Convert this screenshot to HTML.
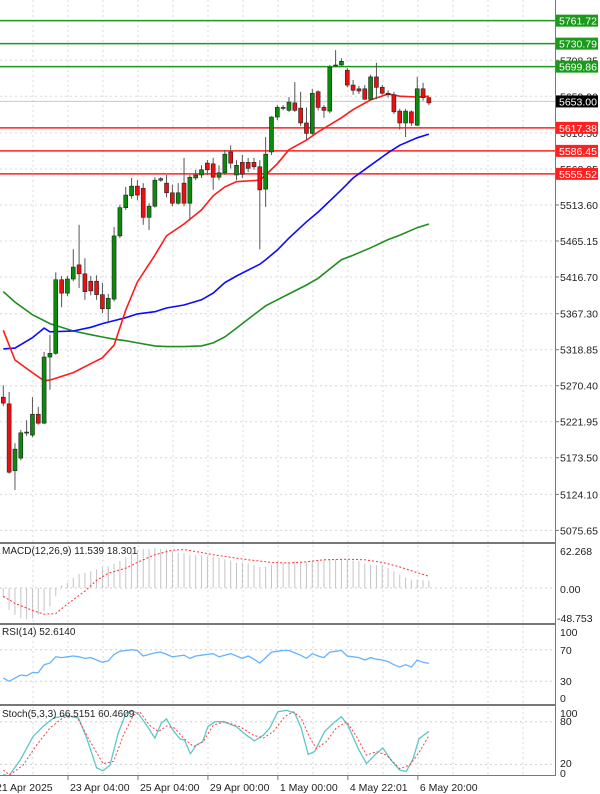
<!DOCTYPE html>
<html><head><meta charset="utf-8">
<style>
html,body{margin:0;padding:0;background:#fff;}
svg{display:block;font-family:"Liberation Sans",sans-serif;}
</style></head>
<body>
<svg id="chart" width="600" height="794" viewBox="0 0 600 794" xmlns="http://www.w3.org/2000/svg">
<defs>
<clipPath id="cMain"><rect x="0" y="0" width="555" height="542"/></clipPath>
<clipPath id="cMacd"><rect x="0" y="545" width="555" height="77"/></clipPath>
<clipPath id="cRsi"><rect x="0" y="626" width="555" height="77"/></clipPath>
<clipPath id="cSto"><rect x="0" y="707" width="555" height="68"/></clipPath>
</defs>
<rect x="0" y="0" width="600" height="794" fill="#fff"/>
<g id="grid"></g>
<g id="main" clip-path="url(#cMain)"></g>
<g id="macd" clip-path="url(#cMacd)"></g>
<g id="rsi" clip-path="url(#cRsi)"></g>
<g id="sto" clip-path="url(#cSto)"></g>
<g id="axes"></g>
<text x="2" y="554" font-size="10" fill="#222">MACD(12,26,9) 11.539 18.301</text>
<text x="2" y="635" font-size="10" fill="#222">RSI(14) 52.6140</text>
<text x="2" y="717" font-size="10" fill="#222">Stoch(5,3,3) 66.5151 60.4609</text>
</svg>
<script>
// ---- data ----
const opens  = [5255,5246,5156,5173,5207,5204,5232,5220,5309,5314,5413,5395,5414,5433,5421,5411,5411,5393,5374,5387,5472,5510,5526,5539,5536,5497,5512,5547,5543,5530,5516,5543,5516,5550,5554,5570,5569,5551,5557,5585,5554,5571,5571,5571,5565,5535,5585,5632,5645,5641,5651,5644,5624,5610,5666,5645,5640,5701,5702,5695,5675,5670,5670,5656,5686,5672,5664,5662,5640,5624,5639,5621,5670,5658];
const highs  = [5271,5262,5193,5211,5224,5255,5242,5316,5339,5423,5418,5418,5454,5487,5442,5418,5419,5409,5394,5484,5514,5538,5550,5547,5543,5516,5551,5551,5554,5541,5543,5577,5554,5561,5567,5574,5577,5567,5588,5594,5574,5581,5577,5577,5574,5605,5633,5648,5648,5659,5679,5666,5645,5670,5668,5648,5702,5722,5711,5698,5682,5674,5675,5689,5705,5675,5668,5666,5643,5643,5641,5686,5678,5659];
const lows   = [5243,5152,5130,5170,5203,5201,5218,5219,5265,5312,5376,5391,5411,5402,5386,5392,5386,5368,5356,5384,5469,5507,5522,5520,5487,5480,5510,5545,5524,5512,5514,5512,5493,5547,5550,5554,5534,5547,5554,5563,5547,5550,5558,5561,5454,5511,5581,5628,5641,5639,5639,5620,5601,5608,5641,5631,5637,5700,5701,5672,5662,5663,5655,5654,5656,5662,5658,5636,5615,5605,5620,5620,5654,5648];
const closes = [5247,5154,5185,5207,5208,5232,5220,5309,5314,5413,5395,5414,5430,5421,5397,5398,5393,5374,5388,5472,5510,5527,5539,5527,5497,5512,5547,5549,5530,5516,5530,5516,5551,5554,5561,5561,5551,5557,5582,5570,5567,5555,5563,5565,5534,5582,5632,5645,5645,5652,5641,5624,5610,5664,5645,5641,5699,5702,5707,5675,5668,5667,5656,5686,5672,5664,5662,5639,5624,5640,5624,5670,5658,5651];
const maIdx   = [0,2,5,7,8,12,15,17,19,21,23,26,28,31,34,36,38,40,44,45,47,49,52,54,58,60,63,66,68,71,73];
const maRed   = [5345,5305,5288,5277,5278,5288,5300,5308,5325,5372,5410,5446,5472,5488,5507,5526,5538,5545,5547,5554,5569,5588,5601,5612,5631,5642,5655,5663,5660,5659,5660];
const maBlue  = [5320,5321,5335,5348,5343,5344,5349,5354,5358,5362,5367,5370,5375,5379,5386,5395,5409,5418,5434,5440,5453,5469,5491,5504,5534,5550,5567,5584,5594,5604,5609];
const maGreen = [5397,5383,5366,5358,5354,5344,5339,5336,5333,5331,5328,5324,5323,5323,5324,5328,5336,5348,5372,5378,5386,5394,5406,5415,5440,5446,5456,5467,5473,5483,5488];
const levelsGreen = [5761.72,5730.79,5699.86];
const levelsRed = [5617.38,5586.45,5555.52];
const lastPrice = 5653.00;
const priceTicks = [5708.35,5659.90,5610.50,5562.05,5513.60,5465.15,5416.70,5367.30,5318.85,5270.40,5221.95,5173.50,5124.10,5075.65];
const macdHist = [-16,-34,-42,-47,-49,-48,-42,-36,-29,-13,4,8,16,22,24,26,29,33,34,38,42,48,55,59,61,61,62,61,61,57,55,54,52,51,51,49,49,47,45,43,39,40,38,36,33,33,36,39,40,40,42,40,40,42,43,44,45,45,45,45,43,42,38,36,36,35,31,26,21,16,13,13,12,11.5];
const sigIdx = [0,2,5,7,9,11,14,16,18,21,23,26,29,31,33,36,39,42,46,49,52,55,59,62,65,68,71,73];
const sigVal = [-13,-24,-35,-41,-40,-25,-5,12,23,31,40,52,59,60,57,52,48,44,40,39,41,44,45,44,40,33,24,18.3];
const rsiVals = [34,30,34,38,37,41,41,51,53,61,60,61,62,61,59,60,57,54,56,64,68,69,70,69,62,64,66,67,64,61,62,63,59,62,63,64,65,61,63,65,62,59,62,58,53,60,67,68,69,69,66,63,59,65,62,60,67,68,69,62,61,60,57,60,58,57,55,51,48,51,48,57,54,52.6];
const stoKIdx = [0,0.9,2.9,5.1,6.9,8.6,10.9,12.9,14.3,16,17.1,18.3,19.7,21.1,22.3,23.4,24.9,26,27.1,28,29.1,30.3,31.1,32.1,33.1,34.2,35.1,36.3,37.7,40,41.7,43.1,44.6,45.7,47.1,48.6,50,51.1,52.3,53.4,55.1,56.6,58,59.1,60.9,62.3,63.7,65.1,66.6,68,69.1,70.3,71.3,73];
const stoK = [6,3,26,59,74,85,89,85,57,15,11,19,64,93,95,89,71,57,78,84,68,56,54,35,47,52,73,80,80,73,61,53,61,71,94,96,92,71,34,38,66,78,87,75,42,21,33,43,25,12,10,28,56,66.5];
const stoDIdx = [0,1.1,3.4,5.7,8,10.3,12.6,14.9,17.1,18.9,20.6,22.3,23.4,25.1,26.6,28,29.4,30.9,32.6,34.3,36,38,40.6,42.9,44.6,46.3,48.3,49.7,51.1,52.6,53.7,55.4,57.1,58.9,60.6,62.3,64,65.7,68,69.7,71.4,73];
const stoD = [12,5,19,47,71,86,87,52,21,24,61,89,94,75,66,74,71,57,45,52,75,80,73,61,57,66,87,94,85,57,42,52,71,80,59,33,38,33,14,19,38,60.5];
const dateLabels = ["21 Apr 2025","23 Apr 04:00","25 Apr 04:00","29 Apr 00:00","1 May 00:00","4 May 22:01","6 May 20:00"];
const dateIdx = [-0.5,11.1,23.1,35.1,47.1,59.1,71.1];

// ---- scales ----
const NS = "http://www.w3.org/2000/svg";
const xOf = i => 3.3 + 5.83 * i;
const yMain = p => (5789.5 - p) / 1.3458;
const yMacd = v => 588 - v * 0.64;
const yRsi = v => 649.7 + (70 - v) * 0.79;
const ySto = v => 721.7 + (80 - v) * 0.711;
function mk(tag, attrs, parent) {
  const e = document.createElementNS(NS, tag);
  for (const k in attrs) e.setAttribute(k, attrs[k]);
  parent.appendChild(e);
  return e;
}
const G = id => document.getElementById(id);

// grid
const grid = G('grid');
for (let x = 33; x < 555; x += 35) {
  [[0,542],[545,622],[626,703],[707,775]].forEach(r => {
    const l = mk('line', {x1:x, x2:x, y1:r[0], y2:r[1], stroke:'#d8d8d8', 'stroke-dasharray':'2,3'}, grid);
    
    
  });
}
priceTicks.forEach(p => {
  const l = mk('line', {x1:0, x2:555, y1:yMain(p), y2:yMain(p), stroke:'#d8d8d8', 'stroke-dasharray':'2,3'}, grid);
  
  
});
[[yMacd(0)],[yRsi(70)],[yRsi(30)],[ySto(80)],[ySto(20)]].forEach(r => {
  const l = mk('line', {x1:0, x2:555, y1:r[0], y2:r[0], stroke:'#cfcfcf', 'stroke-dasharray':'2,3'}, grid);
  
  
});

// main panel
const main = G('main');
const cur = mk('line', {x1:0, x2:555, y1:yMain(lastPrice), y2:yMain(lastPrice), stroke:'#c8c8c8', 'stroke-width':1}, main);


levelsGreen.forEach(p => {
  const l = mk('line', {x1:0, x2:555, y1:yMain(p), y2:yMain(p), stroke:'#1a9a1a', 'stroke-width':1.5}, main);
  
  
});
levelsRed.forEach(p => {
  const l = mk('line', {x1:0, x2:555, y1:yMain(p), y2:yMain(p), stroke:'#ff2020', 'stroke-width':1.5}, main);
  
  
});
function maLine(vals, color, name) {
  const pts = maIdx.map((i, k) => xOf(i).toFixed(1) + ',' + yMain(vals[k]).toFixed(1)).join(' ');
  const l = mk('polyline', {points:pts, fill:'none', stroke:color, 'stroke-width':1.6}, main);
  
  
}
maLine(maGreen, '#1f8f1f', 'ma-green');
maLine(maBlue, '#0a0aff', 'ma-blue');
maLine(maRed, '#ff1a1a', 'ma-red');
opens.forEach((o, i) => {
  const c = closes[i], x = xOf(i);
  const w = mk('line', {x1:x, x2:x, y1:yMain(highs[i]), y2:yMain(lows[i]), stroke:'#555', 'stroke-width':1}, main);
  
  
  const top = yMain(Math.max(o, c)), bot = yMain(Math.min(o, c));
  const b = mk('rect', {x:x-2, y:top, width:4, height:Math.max(1, bot-top), fill:c>=o?'#0c8a0c':'#e81010', stroke:'#222', 'stroke-width':0.6}, main);
  
  
});

// MACD
const macd = G('macd');
macdHist.forEach((v, i) => {
  const y0 = yMacd(0), y1 = yMacd(v);
  const l = mk('line', {x1:xOf(i), x2:xOf(i), y1:y0, y2:y1, stroke:'#c4c4c4', 'stroke-width':1}, macd);
  
  
});
const sig = mk('polyline', {points:sigIdx.map((i,k)=>xOf(i).toFixed(1)+','+yMacd(sigVal[k]).toFixed(1)).join(' '), fill:'none', stroke:'#ff3030', 'stroke-width':1, 'stroke-dasharray':'2,2'}, macd);



// RSI
const rsiL = mk('polyline', {points:rsiVals.map((v,i)=>xOf(i).toFixed(1)+','+yRsi(v).toFixed(1)).join(' '), fill:'none', stroke:'#66b3ff', 'stroke-width':1.3}, G('rsi'));



// Stoch
const kL = mk('polyline', {points:stoKIdx.map((i,k)=>xOf(i).toFixed(1)+','+ySto(stoK[k]).toFixed(1)).join(' '), fill:'none', stroke:'#5cc8c8', 'stroke-width':1.3}, G('sto'));


const dL = mk('polyline', {points:stoDIdx.map((i,k)=>xOf(i).toFixed(1)+','+ySto(stoD[k]).toFixed(1)).join(' '), fill:'none', stroke:'#ff4040', 'stroke-width':1, 'stroke-dasharray':'2,2'}, G('sto'));



// axes & separators
const ax = G('axes');
const vline = mk('line', {x1:555.5, x2:555.5, y1:0, y2:776, stroke:'#777', 'stroke-width':1}, ax);


[543, 624, 705].forEach(y => {
  const l = mk('line', {x1:0, x2:556, y1:y, y2:y, stroke:'#777', 'stroke-width':2}, ax);
  
  
});
const bl = mk('line', {x1:0, x2:556, y1:775.5, y2:775.5, stroke:'#777', 'stroke-width':1}, ax);


function axText(x, y, s, name) {
  const t = mk('text', {x:x, y:y, 'font-size':10.5, fill:'#222'}, ax);
  t.textContent = s;
  
  
  return t;
}
priceTicks.forEach(p => {
  const y = yMain(p);
  const tk = mk('line', {x1:555, x2:559, y1:y, y2:y, stroke:'#777'}, ax);
  
  
  axText(560, y+4, p.toFixed(2), 'price-tick-label');
});
function box(p, bg, name) {
  const y = yMain(p);
  const r = mk('rect', {x:556, y:y-6, width:42, height:12, fill:bg}, ax);
  
  
  const t = mk('text', {x:559, y:y+4, 'font-size':10.5, fill:'#fff'}, ax);
  t.textContent = p.toFixed(2);
  
  
}
levelsGreen.forEach(p => box(p, '#1a9a1a', 'resistance-label'));
levelsRed.forEach(p => box(p, '#ff2020', 'support-label'));
box(lastPrice, '#000', 'last-price-label');
axText(560, 555, '62.268', 'macd-max-label');
axText(560, 593, '0.00', 'macd-zero-label');
axText(557, 622, '-48.753', 'macd-min-label');
axText(560, 636, '100', 'rsi-100-label');
axText(560, 654, '70', 'rsi-70-label');
axText(560, 685, '30', 'rsi-30-label');
axText(560, 702, '0', 'rsi-0-label');
axText(560, 717, '100', 'stoch-100-label');
axText(560, 725, '80', 'stoch-80-label');
axText(560, 767, '20', 'stoch-20-label');
axText(560, 777, '0', 'stoch-0-label');
dateLabels.forEach((s, k) => {
  const x = xOf(dateIdx[k]);
  if (k > 0) {
    const tk = mk('line', {x1:x, x2:x, y1:775, y2:780, stroke:'#777'}, ax);
    
    
  }
  const t = axText(k === 0 ? -4 : x + 2, 791, s, 'time-label');
});
</script>
</body></html>
